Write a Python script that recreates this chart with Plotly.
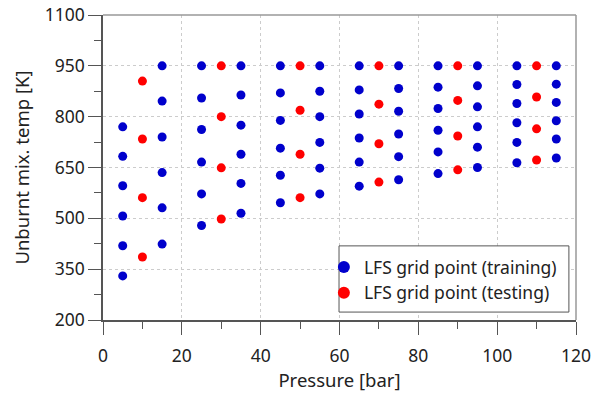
import plotly.graph_objects as go

# Training grid points (blue)
train_p = [5]*6 + [15]*6 + [25]*6 + [35]*6 + [45]*6 + [55]*6 + [65]*6 + [75]*6 + [85]*6 + [95]*6 + [105]*6 + [115]*6
train_t = [770, 683, 596, 507, 419, 330,
           950, 846, 740, 635, 531, 424,
           950, 855, 762, 666, 572, 479,
           950, 864, 775, 689, 603, 515,
           950, 870, 789, 707, 627, 546,
           950, 875, 800, 724, 648, 572,
           950, 879, 808, 737, 666, 595,
           950, 883, 816, 749, 682, 614,
           950, 887, 824, 760, 696, 632,
           950, 891, 829, 770, 710, 650,
           950, 895, 839, 782, 724, 664,
           950, 896, 842, 788, 734, 678]

# Testing grid points (red)
test_p = [10]*4 + [30]*4 + [50]*4 + [70]*4 + [90]*4 + [110]*4
test_t = [905, 734, 561, 386,
          950, 800, 649, 498,
          950, 819, 689, 561,
          950, 837, 720, 607,
          950, 848, 743, 643,
          950, 858, 764, 672]

x_ticks = [0, 20, 40, 60, 80, 100, 120]
y_ticks = [200, 350, 500, 650, 800, 950, 1100]

FONT = "Noto Sans"
TXT = "#222222"

fig = go.Figure()
fig.add_trace(go.Scatter(x=train_p, y=train_t, mode="markers",
                         name="LFS grid point (training)",
                         marker=dict(color="#0000CC", size=9)))
fig.add_trace(go.Scatter(x=test_p, y=test_t, mode="markers",
                         name="LFS grid point (testing)",
                         marker=dict(color="#FF0000", size=9)))

axis_common = dict(
    showline=True, linecolor="#555555", linewidth=1.5,
    ticks="outside", ticklen=13, tickwidth=1, tickcolor="#555555",
    showgrid=True, gridcolor="#cccccc", griddash="dot", gridwidth=1,
    zeroline=False, automargin=False,
    tickfont=dict(family=FONT, size=17.5, color=TXT),
)

fig.update_xaxes(range=[0, 120], tickvals=x_ticks, ticktext=[str(v) for v in x_ticks],
                 minor=dict(dtick=10, tick0=0, ticklen=7, tickcolor="#555555", ticks="outside", showgrid=False),
                 title=dict(text="Pressure [bar]", font=dict(family=FONT, size=18.5, color=TXT), standoff=8),
                 ticklabelstandoff=6,
                 **axis_common)
fig.update_yaxes(range=[200, 1100], tickvals=y_ticks, ticktext=[str(v) for v in y_ticks],
                 minor=dict(dtick=75, tick0=200, ticklen=7, tickcolor="#555555", ticks="outside", showgrid=False),
                 title=dict(text="Unburnt mix. temp [K]", font=dict(family=FONT, size=18.5, color=TXT), standoff=10),
                 **axis_common)

# lighter frame on top/right
fig.add_shape(type="line", xref="paper", yref="paper", x0=0, x1=1, y0=1, y1=1,
              line=dict(color="#999999", width=1.5), layer="above")
fig.add_shape(type="line", xref="paper", yref="paper", x0=1, x1=1, y0=0, y1=1,
              line=dict(color="#999999", width=1.5), layer="above")
# legend box
fig.add_shape(type="rect", xref="paper", yref="paper", x0=0.499, x1=0.985, y0=0.026, y1=0.243,
              line=dict(color="#555555", width=1), fillcolor="white", layer="above")

fig.update_layout(
    width=593, height=397,
    margin=dict(l=103, r=17, t=15, b=77),
    plot_bgcolor="white", paper_bgcolor="white",
    font=dict(family=FONT, color=TXT),
    showlegend=True,
    legend=dict(x=0.467, y=0.131, xanchor="left", yanchor="middle",
                bgcolor="rgba(0,0,0,0)", borderwidth=0,
                font=dict(family=FONT, size=17.5, color=TXT),
                itemsizing="constant", tracegroupgap=0),
    hovermode=False,
)

fig.write_html("out.html")
